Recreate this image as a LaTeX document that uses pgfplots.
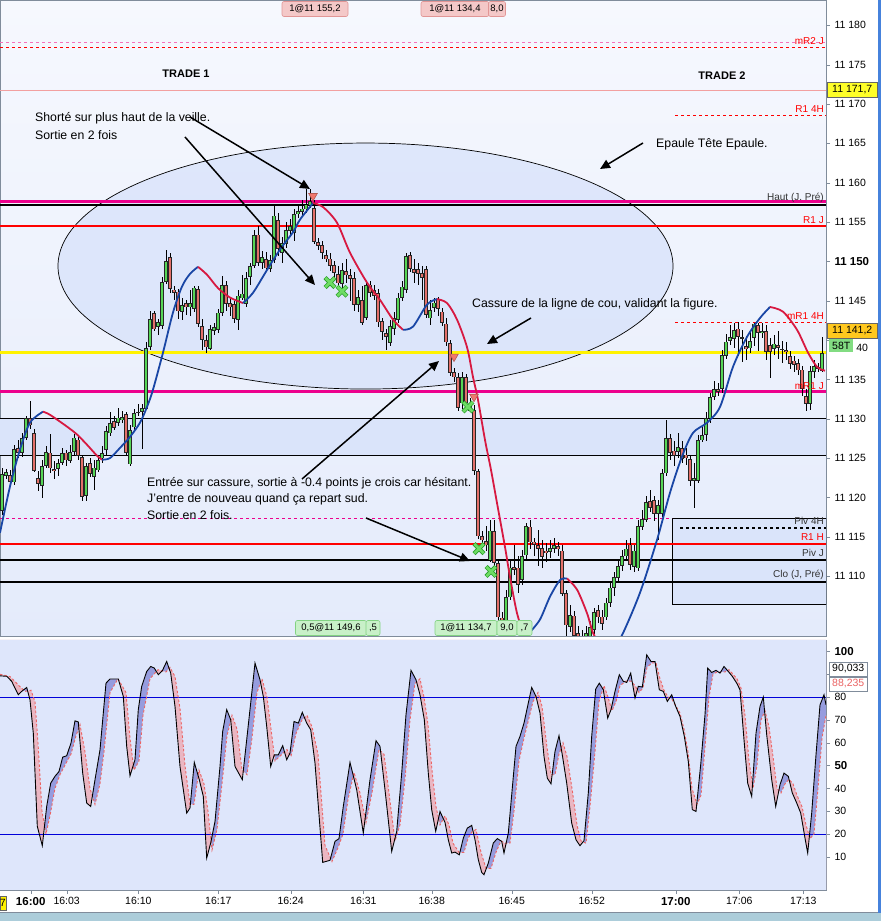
\documentclass[border=0pt]{standalone}
\usepackage{fontspec}
\setmainfont{Liberation Sans}
\usepackage{pgfplots}
\usepackage{pgfplotstable}
\pgfplotsset{compat=1.18}
\usetikzlibrary{arrows.meta}

\definecolor{cgreen}{RGB}{86,214,86}
\definecolor{cred}{RGB}{228,112,106}
\definecolor{mablue}{RGB}{25,70,165}
\definecolor{mared}{RGB}{215,25,65}
\definecolor{bgtop}{RGB}{246,248,254}
\definecolor{bgbot}{RGB}{228,235,251}
\definecolor{band}{RGB}{218,228,250}
\definecolor{ellfill}{RGB}{212,224,250}
\definecolor{stobg}{RGB}{222,230,251}
\definecolor{kfillb}{RGB}{150,156,222}
\definecolor{kfillr}{RGB}{234,182,194}
\definecolor{frame}{RGB}{128,140,155}
\definecolor{dred}{RGB}{235,100,100}
\definecolor{pinkline}{RGB}{242,160,160}
\definecolor{xgreen}{RGB}{40,160,40}
\definecolor{xlgreen}{RGB}{110,220,100}
\definecolor{sigred}{RGB}{240,120,110}
\definecolor{boxpink}{RGB}{244,200,200}
\definecolor{boxpinkd}{RGB}{225,150,150}
\definecolor{boxgreen}{RGB}{200,240,200}
\definecolor{boxgreend}{RGB}{130,210,130}
\definecolor{stripbot}{RGB}{172,205,218}
\definecolor{stripright}{RGB}{70,130,220}
\definecolor{lblyellow}{RGB}{255,255,40}
\definecolor{lblgold}{RGB}{255,200,30}
\definecolor{lblgreen}{RGB}{130,220,130}

% ---------------- price candles: x (bar position) open high low close
\pgfplotstableread{
x o h l c
2 11118.4 11123.8 11117.8 11123.1
6 11122.9 11123.8 11122.5 11123.4
10 11122.9 11123.5 11121.4 11122.0
14 11122.0 11126.7 11121.6 11126.2
18 11126.3 11127.3 11125.0 11125.7
22 11125.7 11128.3 11125.3 11127.6
26 11127.6 11130.4 11127.3 11130.1
30 11130.1 11132.4 11128.8 11129.2
34 11128.3 11128.8 11123.3 11123.5
38 11122.6 11123.5 11121.0 11121.9
42 11121.6 11124.8 11120.0 11124.1
46 11124.1 11126.6 11123.8 11125.9
50 11125.8 11128.2 11123.3 11123.8
54 11123.8 11124.8 11122.5 11123.5
58 11123.6 11125.0 11122.9 11124.4
62 11124.5 11126.3 11124.1 11125.7
66 11125.7 11126.1 11124.0 11124.7
70 11124.7 11126.7 11124.4 11125.9
74 11125.9 11128.2 11125.5 11127.7
78 11127.3 11127.8 11124.8 11125.2
82 11125.2 11125.4 11119.7 11120.1
86 11120.3 11124.5 11119.7 11124.1
90 11124.5 11125.0 11122.7 11123.1
94 11122.6 11124.8 11121.0 11123.8
98 11123.6 11125.4 11123.3 11124.9
102 11125.0 11126.7 11124.5 11125.7
106 11126.1 11129.2 11125.4 11128.5
110 11128.2 11130.9 11127.8 11129.5
114 11129.9 11130.4 11128.6 11129.0
118 11129.5 11131.4 11129.1 11130.2
122 11130.0 11131.1 11129.6 11130.4
126 11130.6 11130.9 11125.3 11125.7
130 11124.3 11129.2 11124.0 11128.7
134 11129.0 11131.4 11128.6 11130.8
138 11130.8 11131.9 11130.4 11131.0
142 11130.9 11131.9 11126.1 11131.4
146 11131.4 11139.8 11131.1 11139.1
150 11139.1 11143.7 11138.8 11142.7
154 11143.6 11143.8 11141.3 11141.5
158 11141.7 11142.8 11140.8 11142.3
162 11141.9 11148.0 11141.5 11147.5
166 11147.5 11151.5 11147.1 11150.1
170 11150.6 11151.2 11146.1 11146.6
174 11146.5 11146.9 11145.1 11146.1
178 11146.2 11146.6 11142.8 11143.7
182 11143.6 11145.4 11142.6 11144.5
186 11144.7 11145.1 11143.2 11144.2
190 11144.2 11146.4 11143.2 11144.7
194 11144.1 11147.0 11143.6 11146.8
198 11146.6 11147.0 11141.8 11142.2
202 11141.8 11142.8 11138.8 11140.0
206 11140.0 11140.7 11138.5 11139.1
210 11139.0 11141.9 11138.8 11141.5
214 11141.3 11142.3 11140.7 11141.7
218 11141.4 11144.1 11141.0 11143.6
222 11143.5 11148.3 11143.2 11147.1
226 11147.1 11147.6 11143.8 11144.7
230 11144.8 11145.6 11143.2 11144.3
234 11144.6 11145.1 11142.3 11142.7
238 11142.6 11146.4 11141.3 11145.7
242 11145.4 11148.3 11145.1 11146.0
246 11144.7 11148.7 11144.3 11148.0
250 11148.0 11149.9 11147.0 11149.4
254 11149.5 11154.0 11149.2 11153.4
258 11153.5 11154.6 11149.5 11149.9
262 11149.9 11151.5 11149.2 11150.6
266 11150.4 11151.2 11148.7 11149.2
270 11149.0 11150.8 11148.7 11150.2
274 11150.3 11157.2 11149.9 11155.9
278 11155.4 11156.3 11150.8 11151.7
282 11151.2 11153.2 11149.9 11152.5
286 11152.3 11155.0 11151.7 11154.0
290 11154.0 11155.5 11153.4 11154.6
294 11153.6 11156.7 11152.7 11156.0
298 11156.0 11157.2 11155.5 11156.4
302 11156.3 11157.8 11155.9 11156.7
306 11156.7 11159.3 11156.3 11157.3
310 11157.2 11159.3 11156.8 11157.8
314 11156.8 11157.8 11152.1 11152.5
318 11152.5 11153.0 11151.5 11152.1
322 11152.1 11152.7 11150.4 11151.1
326 11150.9 11151.5 11149.9 11150.4
330 11150.4 11151.1 11148.9 11149.5
334 11149.5 11150.2 11148.0 11148.5
338 11148.5 11149.5 11146.4 11147.3
342 11147.3 11149.9 11146.6 11149.0
346 11148.9 11150.4 11147.4 11148.3
350 11148.4 11149.2 11145.1 11148.0
354 11148.0 11148.7 11143.8 11144.6
358 11144.6 11146.4 11143.6 11145.6
362 11145.2 11147.0 11142.1 11142.3
366 11142.9 11147.6 11142.6 11147.1
370 11147.1 11147.6 11145.6 11146.0
374 11146.4 11147.0 11145.1 11145.7
378 11146.0 11146.6 11141.8 11142.3
382 11142.4 11142.8 11140.0 11141.0
386 11140.9 11141.5 11138.8 11140.4
390 11139.8 11142.6 11139.4 11141.9
394 11141.5 11143.6 11140.8 11142.8
398 11142.7 11146.1 11142.3 11145.5
402 11145.4 11147.6 11145.1 11146.8
406 11146.5 11151.2 11146.1 11150.8
410 11150.8 11151.2 11148.7 11149.0
414 11149.2 11150.4 11147.4 11148.7
418 11149.0 11149.9 11147.0 11148.4
422 11148.7 11149.4 11145.1 11148.0
426 11149.0 11149.5 11142.8 11143.2
430 11142.9 11145.1 11141.9 11144.0
434 11144.1 11145.4 11143.6 11144.8
438 11145.2 11145.6 11143.2 11144.0
442 11143.6 11144.1 11141.8 11142.2
446 11142.2 11142.8 11139.3 11139.8
450 11139.6 11140.0 11135.5 11135.8
454 11136.0 11136.5 11134.7 11135.3
458 11135.3 11136.0 11131.1 11131.4
462 11132.0 11136.0 11131.4 11135.3
466 11135.3 11135.8 11131.6 11132.0
470 11132.0 11132.7 11130.9 11131.1
474 11131.1 11131.8 11123.0 11123.4
478 11123.4 11123.8 11114.9 11115.1
482 11115.1 11115.9 11114.0 11114.6
486 11114.6 11116.5 11113.4 11114.0
490 11112.1 11117.2 11111.8 11115.9
494 11115.8 11117.2 11111.3 11111.7
498 11111.7 11112.1 11104.2 11104.8
502 11104.8 11105.5 11101.3 11102.9
506 11102.8 11108.3 11101.9 11107.4
510 11107.4 11112.1 11107.0 11111.2
514 11111.2 11114.0 11110.2 11110.8
518 11111.1 11112.7 11107.9 11108.9
522 11109.5 11113.4 11108.9 11112.5
526 11112.7 11116.9 11112.3 11116.4
530 11116.4 11117.2 11113.6 11114.4
534 11114.4 11114.9 11112.7 11114.0
538 11114.0 11115.9 11111.4 11113.6
542 11113.7 11114.6 11111.1 11112.5
546 11113.4 11114.2 11111.8 11113.1
550 11113.1 11114.6 11112.3 11113.6
554 11113.5 11114.9 11113.1 11114.0
558 11113.9 11114.4 11112.6 11113.5
562 11113.4 11114.0 11107.5 11107.9
566 11107.9 11108.3 11101.9 11103.8
570 11103.6 11106.4 11102.9 11105.1
574 11105.1 11105.7 11101.3 11102.5
578 11102.9 11103.8 11100.0 11101.3
582 11101.9 11103.2 11099.4 11100.6
586 11101.3 11103.8 11100.6 11102.9
590 11102.4 11104.5 11101.9 11103.7
594 11103.2 11106.0 11102.7 11105.5
598 11105.7 11106.4 11104.2 11104.8
602 11105.0 11105.7 11103.2 11104.1
606 11104.8 11107.3 11104.5 11106.7
610 11106.7 11109.3 11106.2 11108.6
614 11108.6 11110.6 11107.6 11109.9
618 11109.9 11112.1 11109.3 11111.4
622 11111.4 11113.4 11110.8 11112.6
626 11112.6 11114.6 11112.1 11113.6
630 11114.0 11114.9 11110.8 11111.4
634 11111.3 11114.0 11110.6 11113.4
638 11111.1 11117.2 11110.6 11116.5
642 11116.4 11118.4 11115.9 11117.4
646 11117.3 11120.2 11116.9 11119.6
650 11119.6 11121.0 11118.2 11118.8
654 11119.7 11120.3 11117.2 11118.0
658 11118.0 11119.7 11114.6 11119.1
662 11118.0 11123.8 11117.7 11123.1
666 11123.1 11129.9 11122.7 11127.6
670 11127.6 11128.0 11124.8 11125.8
674 11126.1 11127.3 11124.1 11125.4
678 11125.8 11128.2 11125.0 11126.4
682 11126.4 11127.3 11124.5 11125.0
686 11125.5 11126.3 11124.1 11125.0
690 11125.0 11125.4 11121.6 11122.2
694 11122.2 11124.5 11118.8 11122.5
698 11122.2 11128.0 11122.0 11127.4
702 11127.4 11129.2 11127.1 11128.1
706 11128.0 11130.9 11127.3 11130.1
710 11130.1 11133.4 11129.6 11132.8
714 11132.8 11134.9 11132.4 11133.8
718 11133.8 11134.7 11133.0 11133.5
722 11133.8 11138.8 11133.4 11138.1
726 11138.1 11140.9 11137.7 11139.9
730 11139.9 11141.9 11139.4 11140.4
734 11140.3 11142.2 11139.0 11141.4
738 11141.5 11142.3 11138.0 11140.4
742 11140.4 11141.3 11137.2 11140.2
746 11139.4 11140.7 11137.7 11139.0
750 11139.0 11141.3 11138.5 11139.9
754 11140.4 11142.3 11139.4 11142.2
758 11141.9 11142.3 11138.8 11140.9
762 11140.9 11142.3 11140.3 11141.2
766 11141.2 11141.9 11137.5 11138.5
770 11139.4 11140.3 11135.2 11138.5
774 11138.9 11140.7 11138.1 11139.6
778 11139.5 11141.3 11137.7 11139.1
782 11139.0 11140.0 11137.2 11138.8
786 11138.9 11139.8 11137.5 11138.6
790 11138.1 11138.8 11136.5 11137.1
794 11137.4 11138.0 11136.0 11136.8
798 11137.1 11137.7 11135.6 11136.2
802 11136.2 11136.8 11133.0 11133.7
806 11133.0 11133.9 11131.1 11132.0
810 11132.0 11136.8 11131.1 11136.2
814 11136.0 11137.5 11135.2 11136.7
818 11136.5 11137.2 11136.0 11136.7
822 11136.2 11140.4 11136.0 11138.4
}\candles

% ---------------- stochastic %K
\pgfplotstableread{
x y
0 89.3
6.7 89.1
11.7 86.9
15 83.9
18.3 81.0
21.7 82.5
26.7 84.2
30 78.8
33.3 64.2
37.3 23.4
42.3 14.9
46.7 32.1
50.7 42.3
55 45.3
59 47.4
62.7 53.7
66.7 54.3
71 59.9
75 69.6
78.3 69.1
82.7 46.7
86.7 33.6
90.7 32.1
95 43.8
100 56.9
106 86.1
110 87.9
118.3 87.9
123.3 80.3
126.7 58.4
130 45.5
135 52.6
138.3 74.5
141.7 84.7
146.7 91.2
150.7 93.4
154.3 92.7
158.3 89.8
162.3 91.5
166.7 95.6
170.7 90.5
175 75.9
180 49.6
186.7 29.2
190 31.4
194.3 51.4
199.3 43.8
203.3 36.5
206.7 9.5
210.7 16.1
215 25.5
220 49.6
222.7 65.0
226.7 74.5
230.7 70.1
235 49.6
242.3 43.8
246.7 61.3
250.7 77.4
255 94.9
260 87.6
263.3 80.3
266.7 67.2
270.7 49.6
274.3 54.7
278.3 54.7
282.7 58.7
286.7 52.6
290 55.5
294 69.3
298.3 68.6
302.3 73.3
306.7 68.6
310.7 65.7
315 51.1
322.7 7.6
330 8.5
335 16.8
339 18.0
343.3 32.1
350 51.4
356.7 39.4
363.3 20.4
370 43.8
376 60.9
380 58.4
385 39.4
391.7 12.4
396.7 21.2
401.7 46.7
406 72.3
411 91.7
416 87.6
420 81.0
424.3 70.1
428.3 46.7
431.7 30.7
435.7 21.2
440 29.9
445 25.1
448.3 17.5
451.7 11.7
455 12.1
459.3 10.9
463.3 18.2
467.3 22.6
471.7 23.8
475 17.5
478.3 8.8
481.7 3.2
484 2.2
488.3 7.3
493.3 16.1
497.3 18.0
501.7 16.8
504 11.7
508.3 20.4
511.7 37.2
516 58.4
520 62.8
524 68.6
528.3 77.4
531.7 84.2
536 80.3
540 73.0
544 54.0
547.3 44.5
551 42.0
555 56.2
559 63.1
562.3 54.7
566.7 42.3
571.7 24.8
576 17.5
580 14.9
584 17.1
588.3 38.0
591.7 62.8
595.7 83.5
599.3 86.1
603.3 83.2
607.7 70.8
611 74.5
615 82.5
619.3 89.8
623.3 86.9
626.7 86.4
630.7 90.5
635 79.6
638.3 84.7
642.3 84.4
646.7 98.5
651 95.6
655 95.6
659.3 83.2
663.3 82.5
667.3 78.1
671.7 81.0
675.7 75.9
680 71.5
684.3 62.8
688.3 51.8
692.3 30.7
696 29.9
700.7 50.4
705 72.3
707.7 92.7
711.7 90.8
716 91.7
720 90.5
724 93.4
728.3 91.2
732.3 89.1
736.7 86.1
740 83.2
744 61.3
747.7 42.3
751.7 36.5
756 64.2
760 75.9
763.3 80.0
766.7 63.5
771.7 43.8
775.7 32.1
780 41.6
784 46.7
788.3 45.3
792.3 38.0
796.7 33.6
800.7 29.2
805 18.2
807.7 11.7
811.7 29.2
816 54.7
820 76.6
824 81.0
826 76.6
}\Ktab

% ---------------- stochastic %D
\pgfplotstableread{
x y
0 90.0
10 89.0
19 85.0
25 82.5
31 83.0
35 78.0
38 60.0
42 30.0
46 20.0
50 28.0
55 40.0
60 46.0
66 51.0
71 55.0
76 63.0
80 68.0
85 56.0
90 40.0
95 33.0
100 42.0
104 56.0
110 82.0
118 88.0
126 82.0
130 62.0
134 48.0
139 52.0
143 72.0
150 88.0
158 92.0
166 91.0
170 93.0
175 89.0
180 75.0
185 50.0
190 33.0
194 33.0
199 48.0
204 42.0
208 30.0
212 13.0
217 22.0
222 42.0
227 63.0
232 72.0
237 66.0
242 48.0
247 46.0
252 62.0
257 82.0
262 88.0
267 80.0
271 66.0
275 52.0
282 55.0
287 57.0
291 54.0
296 64.0
302 70.0
307 72.0
312 67.0
318 55.0
325 15.0
332 8.0
338 14.0
343 20.0
348 35.0
354 47.0
360 38.0
366 25.0
372 38.0
379 57.0
384 55.0
389 38.0
395 17.0
400 24.0
405 44.0
410 70.0
415 86.0
420 88.0
424 80.0
428 68.0
432 48.0
436 32.0
440 24.0
445 28.0
449 24.0
453 16.0
459 12.0
464 12.0
468 18.0
472 21.0
476 22.0
481 12.0
486 5.0
491 5.0
496 12.0
501 17.0
505 16.0
510 16.0
514 30.0
519 52.0
524 62.0
528 69.0
533 78.0
538 82.0
542 76.0
547 58.0
551 46.0
555 46.0
559 55.0
563 60.0
567 54.0
572 40.0
577 24.0
581 17.0
586 16.0
590 32.0
595 56.0
599 78.0
604 85.0
608 80.0
612 74.0
616 78.0
620 85.0
626 87.0
631 87.0
635 85.0
639 82.0
643 84.0
647 93.0
652 95.0
656 95.0
660 88.0
664 83.0
668 80.0
672 79.0
676 76.0
680 73.0
684 66.0
688 56.0
692 40.0
697 33.0
701 37.0
705 58.0
709 80.0
713 90.0
717 91.0
721 91.0
725 91.0
729 92.0
733 90.0
737 88.0
741 84.0
745 72.0
749 52.0
753 40.0
757 50.0
761 70.0
765 74.0
769 67.0
773 54.0
777 40.0
781 38.0
785 42.0
789 44.0
793 42.0
797 37.0
802 32.0
806 24.0
810 18.0
814 20.0
818 40.0
822 62.0
826 72.0
}\Dtab

% corner rows used to close the fill regions of the stochastic panel
\pgfplotstableread{
x y
826 105
0 105
}\capTop
\pgfplotstableread{
x y
826 -4.5
0 -4.5
}\capBot
\pgfplotstableread{
x y
nan nan
}\nanrow
\pgfplotstablevertcat{\Ktop}{\Ktab}
\pgfplotstablevertcat{\Ktop}{\capTop}
\pgfplotstablevertcat{\Dbot}{\Dtab}
\pgfplotstablevertcat{\Dbot}{\capBot}
\pgfplotstablevertcat{\Txor}{\Ktop}
\pgfplotstablevertcat{\Txor}{\nanrow}
\pgfplotstablevertcat{\Txor}{\Dbot}

\begin{document}
\begin{tikzpicture}
\useasboundingbox (0pt,0pt) rectangle (881pt,921pt);
\fill[white] (0pt,0pt) rectangle (881pt,921pt);

% ===================== PRICE PANEL =====================
\begin{axis}[
  at={(0pt,285pt)}, anchor=south west, scale only axis,
  width=826pt, height=636pt,
  xmin=0, xmax=826, ymin=11102.4, ymax=11183.2,
  axis background/.style={top color=bgtop, bottom color=bgbot},
  axis line style={frame},
  xtick=\empty, scaled y ticks=false, scaled x ticks=false,
  ytick={11110,11115,...,11180},
  yticklabels={11 110,11 115,11 120,11 125,11 130,11 135,,11 145,\textbf{\fontsize{11.5}{13}\selectfont 11 150},11 155,11 160,11 165,11 170,11 175,11 180},
  yticklabel pos=right, ytick pos=right, tick align=outside,
  major tick length=4pt, tick style={frame},
  yticklabel style={font=\fontsize{10.5}{12}\selectfont, anchor=west, xshift=1pt},
]
\fill[band] (axis cs:0,11125.4) rectangle (axis cs:826,11130.0);
\filldraw[fill=band, draw=black, line width=0.6pt] (axis cs:672,11106.4) rectangle (axis cs:826,11117.3);
\filldraw[fill=ellfill, fill opacity=0.65, draw=black, line width=0.7pt] (axis cs:365.5,11149.4) ellipse [x radius=307.5pt, y radius=123pt];

% level lines
\addplot[pinkline!70!magenta, dashed, line width=0.8pt] coordinates {(0,11177.8) (826,11177.8)};
\addplot[red, dashed, line width=1pt] coordinates {(0,11177.2) (826,11177.2)};
\addplot[pinkline, line width=0.8pt] coordinates {(0,11171.7) (826,11171.7)};
\addplot[red, dashed, line width=0.8pt] coordinates {(675,11168.6) (826,11168.6)};
\addplot[magenta, line width=3pt] coordinates {(0,11157.6) (826,11157.6)};
\addplot[black, line width=2pt] coordinates {(0,11157.1) (826,11157.1)};
\addplot[red, line width=2pt] coordinates {(0,11154.5) (826,11154.5)};
\addplot[red, dashed, line width=0.8pt] coordinates {(675,11142.3) (826,11142.3)};
\addplot[yellow, line width=3pt] coordinates {(0,11138.4) (826,11138.4)};
\addplot[magenta, line width=3pt] coordinates {(0,11133.4) (826,11133.4)};
\addplot[black, line width=0.8pt] coordinates {(0,11130.0) (826,11130.0)};
\addplot[black, line width=0.8pt] coordinates {(0,11125.4) (826,11125.4)};
\addplot[magenta, dashed, line width=0.6pt] coordinates {(0,11117.3) (672,11117.3)};
\addplot[black, dashed, line width=1.5pt] coordinates {(680,11116.1) (826,11116.1)};
\addplot[red, line width=2pt] coordinates {(0,11114.1) (826,11114.1)};
\addplot[black, line width=2pt] coordinates {(0,11112.0) (826,11112.0)};
\addplot[black, line width=2pt] coordinates {(0,11109.3) (826,11109.3)};

% candle wicks
\addplot[draw=none, error bars/.cd, y dir=both, y explicit, error mark=none,
  error bar style={draw=black, line width=0.8pt}]
  table[x=x, y expr={(\thisrow{h}+\thisrow{l})/2}, y error expr={(\thisrow{h}-\thisrow{l})/2}] {\candles};
% candle body outlines
\addplot[draw=none, error bars/.cd, y dir=both, y explicit, error mark=none,
  error bar style={draw=black!85, line width=3.5pt}]
  table[x=x, y expr={(\thisrow{o}+\thisrow{c})/2}, y error expr={max(abs(\thisrow{o}-\thisrow{c})/2,0.12)}] {\candles};
% up bodies
\addplot[draw=none, restrict expr to domain={\thisrow{c}-\thisrow{o}}{0:1000},
  error bars/.cd, y dir=both, y explicit, error mark=none,
  error bar style={draw=cgreen, line width=2.2pt}]
  table[x=x, y expr={(\thisrow{o}+\thisrow{c})/2}, y error expr={max(abs(\thisrow{o}-\thisrow{c})/2-0.1,0)}] {\candles};
% down bodies
\addplot[draw=none, restrict expr to domain={\thisrow{o}-\thisrow{c}}{0.01:1000},
  error bars/.cd, y dir=both, y explicit, error mark=none,
  error bar style={draw=cred, line width=2.2pt}]
  table[x=x, y expr={(\thisrow{o}+\thisrow{c})/2}, y error expr={max(abs(\thisrow{o}-\thisrow{c})/2-0.1,0)}] {\candles};

% moving average (blue rising, red falling)
\addplot[mablue, line width=1.8pt, smooth] coordinates {(0,11115.5) (10,11121.4) (20,11126.1) (30,11129.5) (43,11130.9)};
\addplot[mared, line width=1.8pt, smooth] coordinates {(43,11130.9) (50,11130.5) (67,11129.0) (77,11128.0) (87,11126.7) (97,11125.3) (102,11124.8)};
\addplot[mablue, line width=1.8pt, smooth] coordinates {(102,11124.8) (110,11125.0) (120,11126.3) (130,11127.7) (140,11129.5) (147,11131.5) (153,11133.7) (163,11138.4) (173,11143.5) (182,11146.8) (190,11148.4) (198,11149.3)};
\addplot[mared, line width=1.8pt, smooth] coordinates {(198,11149.3) (207,11148.3) (218,11146.6) (230,11145.4) (243,11144.7)};
\addplot[mablue, line width=1.8pt, smooth] coordinates {(243,11144.7) (253,11146.0) (267,11148.9) (280,11151.5) (293,11153.7) (300,11155.3) (313,11157.4)};
\addplot[mared, line width=1.8pt, smooth] coordinates {(313,11157.4) (323,11156.9) (337,11154.9) (350,11151.1) (367,11147.3) (380,11145.1) (393,11142.6) (403,11141.3)};
\addplot[mablue, line width=1.8pt, smooth] coordinates {(403,11141.3) (413,11141.7) (427,11144.5) (437,11145.2)};
\addplot[mared, line width=1.8pt, smooth] coordinates {(437,11145.2) (447,11144.7) (457,11142.6) (467,11139.1) (473,11135.3) (478,11132.4) (485,11127.3) (491,11123.5) (497,11119.3) (505,11113.7) (510,11109.9) (517,11105.3) (523,11103.2) (530,11102.9)};
\addplot[mablue, line width=1.8pt, smooth] coordinates {(530,11102.9) (540,11104.5) (550,11107.4) (560,11109.5) (567,11109.7)};
\addplot[mared, line width=1.8pt, smooth] coordinates {(567,11109.7) (577,11108.3) (587,11105.3) (593,11102.8) (600,11101.3) (606,11100.6)};
\addplot[mablue, line width=1.8pt, smooth] coordinates {(606,11100.6) (614,11101.2) (622,11102.5) (640,11107.9) (657,11114.6) (670,11120.6) (682,11125.2) (693,11128.2) (707,11129.5) (720,11131.5) (733,11136.6) (747,11140.4) (760,11142.8) (770,11144.2)};
\addplot[mared, line width=1.8pt, smooth] coordinates {(770,11144.2) (783,11143.6) (797,11141.3) (808,11138.4) (817,11136.6) (825,11136.1)};

% trade markers
\addplot[only marks, mark=x, mark size=7pt, color=xgreen, mark options={line width=4.2pt}] coordinates {(330,11147.3) (342,11146.2) (468,11131.5) (479,11113.5) (491,11110.6)};
\addplot[only marks, mark=x, mark size=6.5pt, color=xlgreen, mark options={line width=2.6pt}] coordinates {(330,11147.3) (342,11146.2) (468,11131.5) (479,11113.5) (491,11110.6)};
\addplot[only marks, mark=triangle*, mark size=5pt, mark options={rotate=180, fill=sigred, draw=sigred!75!black, line width=0.6pt}] coordinates {(313,11158.3) (454,11137.9) (474,11132.8)};
\end{axis}

% ===================== STOCHASTIC PANEL =====================
\begin{axis}[
  at={(0pt,31pt)}, anchor=south west, scale only axis,
  width=826pt, height=250pt,
  xmin=0, xmax=826, ymin=-4.5, ymax=105,
  axis background/.style={fill=kfillb},
  axis line style={frame},
  scaled y ticks=false, scaled x ticks=false,
  ytick={10,20,...,100},
  yticklabels={10,20,30,40,\textbf{\fontsize{11.5}{13}\selectfont 50},60,70,80,,\textbf{\fontsize{11.5}{13}\selectfont 100}},
  yticklabel pos=right, ytick pos=right,
  yticklabel style={font=\fontsize{10.5}{12}\selectfont, anchor=west, xshift=1pt},
  xtick={30.7,66.7,138.3,218.3,290.7,363.3,431.7,511.7,591.7,675.7,739.3,803.3},
  xticklabels={\textbf{\fontsize{11.5}{13}\selectfont 16:00},16:03,16:10,16:17,16:24,16:31,16:38,16:45,16:52,\textbf{\fontsize{11.5}{13}\selectfont 17:00},17:06,17:13},
  xtick pos=bottom, tick align=outside, major tick length=4pt, tick style={frame},
  xticklabel style={font=\fontsize{10.5}{12}\selectfont},
]
% fills: blue where %K above %D, pink where %K below %D
\addplot[fill=kfillr, draw=none] table {\Ktop};
\addplot[fill=kfillr, draw=none] table {\Dbot};
\addplot[fill=stobg, draw=none, unbounded coords=jump] table {\Txor};
\addplot[blue!85!black, line width=0.8pt] coordinates {(0,80) (826,80)};
\addplot[blue!85!black, line width=0.8pt] coordinates {(0,20) (826,20)};
\addplot[dred, dash pattern=on 2.5pt off 2pt, line width=0.9pt] table {\Dtab};
\addplot[black, line width=0.9pt] table {\Ktab};
\end{axis}

% ===================== ANNOTATIONS (pixel coordinates) =====================
\begin{scope}[x=1pt, y=-1pt, yshift=921pt]
\fill[stripbot] (0,913) rectangle (881,921);
\draw[frame, line width=0.8pt] (0,912.5) -- (881,912.5);
\fill[stripright] (877.5,0) rectangle (881,913);

\begin{scope}[every node/.style={font=\fontsize{12.3}{14}\selectfont, inner sep=0pt}]
\node[font=\fontsize{11}{13}\selectfont\bfseries] at (186,74) {TRADE 1};
\node[font=\fontsize{11}{13}\selectfont\bfseries] at (722,76) {TRADE 2};
\node[anchor=west] at (35,118) {Shorté sur plus haut de la veille.};
\node[anchor=west] at (35,135) {Sortie en 2 fois};
\node[anchor=west] at (656,144) {Epaule Tête Epaule.};
\node[anchor=west] at (472,304) {Cassure de la ligne de cou, validant la figure.};
\node[anchor=west] at (147,483) {Entrée sur cassure, sortie à -0.4 points je crois car hésitant.};
\node[anchor=west] at (147,499) {J'entre de nouveau quand ça repart sud.};
\node[anchor=west] at (147,515) {Sortie en 2 fois.};
\end{scope}

\begin{scope}[black, line width=1.5pt, -{Triangle[length=10pt,width=9pt]}]
\draw (190,117) -- (310,189);
\draw (185,137) -- (315,285);
\draw (643,143) -- (600,169);
\draw (531,318) -- (487,344);
\draw (302,479) -- (439,361);
\draw (366,518) -- (470,561);
\end{scope}

\begin{scope}[every node/.style={font=\fontsize{10}{12}\selectfont, inner sep=0pt, anchor=east}]
\node[red] at (824,41) {mR2 J};
\node[red] at (824,109) {R1 4H};
\node[black!80] at (824,198) {Haut (J. Pré)};
\node[red] at (824,220) {R1 J};
\node[red] at (824,316) {mR1 4H};
\node[red] at (824,386) {mR1 J};
\node[black!80] at (824,521) {Piv 4H};
\node[red] at (824,537) {R1 H};
\node[black!80] at (824,553) {Piv J};
\node[black!80] at (824,575) {Clo (J, Pré)};
\end{scope}

\begin{scope}[every node/.style={font=\fontsize{9.5}{11}\selectfont, inner sep=0pt, rounded corners=2pt, line width=0.6pt, minimum height=15pt}]
\node[fill=boxpink, draw=boxpinkd, minimum width=66pt] at (315,9) {1@11 155,2};
\node[fill=boxpink, draw=boxpinkd, minimum width=68pt] at (455,9) {1@11 134,4};
\node[fill=boxpink, draw=boxpinkd, minimum width=17pt] at (497,9) {8,0};
\node[fill=boxgreen, draw=boxgreend, minimum width=71pt] at (331,628) {0,5@11 149,6};
\node[fill=boxgreen, draw=boxgreend, minimum width=14pt] at (373,628) {,5};
\node[fill=boxgreen, draw=boxgreend, minimum width=62pt] at (466,628) {1@11 134,7};
\node[fill=boxgreen, draw=boxgreend, minimum width=20pt] at (507,628) {9,0};
\node[fill=boxgreen, draw=boxgreend, minimum width=15pt] at (524.5,628) {,7};
\end{scope}

\begin{scope}[every node/.style={font=\fontsize{10.5}{12}\selectfont, inner sep=0pt, line width=0.5pt, anchor=west}]
\node[fill=lblyellow, draw=black!60, minimum width=50pt, minimum height=15pt] at (827,90) {11 171,7};
\node[fill=lblgold, draw=black!60, minimum width=50pt, minimum height=15pt] at (827,331) {11 141,2};
\node[fill=lblgreen, minimum width=24pt, minimum height=13pt] at (829,346) {58T};
\node at (856,348) {40};
\node[fill=white, draw=frame, minimum width=38pt, minimum height=14pt] at (829,669) {90,033};
\node[fill=white, draw=frame, text=dred, minimum width=38pt, minimum height=14pt] at (829,684) {88,235};
\node[fill=yellow, draw=black!60, minimum height=14pt, anchor=east] at (6,903) {7};
\end{scope}
\end{scope}
\end{tikzpicture}
\end{document}
